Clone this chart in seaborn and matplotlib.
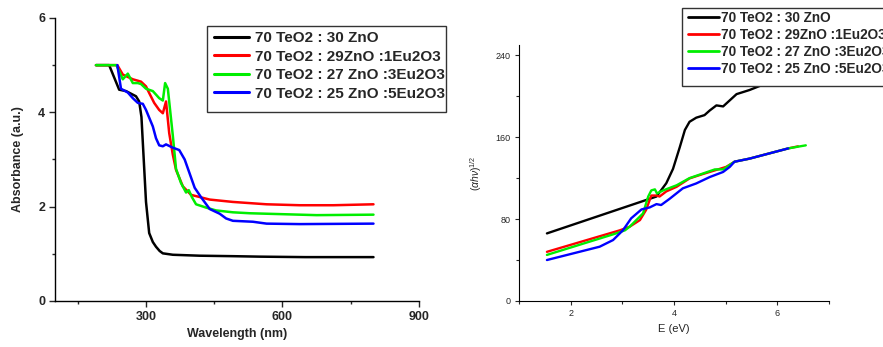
import matplotlib
matplotlib.use("Agg")
import matplotlib.pyplot as plt
from matplotlib.patches import Rectangle
from matplotlib.ticker import MultipleLocator, AutoMinorLocator
import seaborn as sns
import pandas as pd

# ---- Series labels and colours ----
labels = ["70 TeO2 : 30 ZnO", "70 TeO2 : 29ZnO :1Eu2O3",
          "70 TeO2 : 27 ZnO :3Eu2O3", "70 TeO2 : 25 ZnO :5Eu2O3"]
colors = ["#000000", "#ff0000", "#00ee00", "#0000ff"]

# ---- Absorbance spectra (wavelength in nm) ----
wl_black = [190, 219, 241, 256, 278, 285, 290, 295, 300, 307, 315, 322, 330, 337, 359, 418, 491, 550, 650, 800]
ab_black = [5.0, 5.0, 4.48, 4.45, 4.34, 4.23, 3.9, 3.0, 2.1, 1.44, 1.25, 1.15, 1.06, 1.01, 0.98, 0.96, 0.95, 0.94, 0.93, 0.93]

wl_red = [190, 237, 249, 260, 271, 282, 289, 300, 307, 318, 329, 337, 344, 351, 359, 366, 381, 399, 440, 491, 565, 638, 712, 800]
ab_red = [5.0, 5.0, 4.8, 4.75, 4.7, 4.67, 4.65, 4.55, 4.41, 4.2, 4.05, 3.98, 4.23, 3.56, 3.1, 2.78, 2.43, 2.25, 2.15, 2.1, 2.05, 2.03, 2.03, 2.05]

wl_green = [190, 235, 249, 260, 271, 282, 289, 300, 315, 329, 337, 342, 348, 359, 366, 377, 388, 394, 401, 410, 432, 454, 491, 528, 601, 675, 800]
ab_green = [5.0, 5.0, 4.7, 4.82, 4.62, 4.62, 4.6, 4.5, 4.45, 4.3, 4.25, 4.62, 4.5, 3.5, 2.8, 2.5, 2.3, 2.35, 2.2, 2.05, 1.98, 1.92, 1.88, 1.86, 1.84, 1.82, 1.83]

wl_blue = [237, 245, 260, 271, 282, 293, 300, 315, 322, 329, 337, 344, 359, 373, 385, 396, 407, 421, 440, 462, 476, 491, 535, 565, 638, 800]
ab_blue = [5.0, 4.5, 4.42, 4.3, 4.2, 4.18, 4.05, 3.7, 3.45, 3.3, 3.28, 3.32, 3.25, 3.2, 3.0, 2.7, 2.4, 2.2, 1.95, 1.85, 1.75, 1.7, 1.68, 1.64, 1.63, 1.64]

# ---- Tauc plot, (alpha h nu)^(1/2) vs photon energy in eV ----
e_black = [1.54, 3.66, 3.85, 3.98, 4.11, 4.21, 4.30, 4.43, 4.59, 4.69, 4.82, 4.95, 5.08, 5.21, 5.46, 5.66, 6.0, 6.5]
t_black = [66, 102, 115, 129, 150, 167, 175, 179, 181.5, 186, 191, 190, 196, 202, 206, 210, 216, 222]

e_red = [1.54, 2.95, 3.14, 3.34, 3.46, 3.56, 3.66, 3.72, 3.85, 4.05, 4.30, 4.56, 4.82, 5.01, 5.14, 5.17, 5.46, 5.79, 6.21, 6.4]
t_red = [48, 69, 72.5, 79, 89, 103, 103, 102, 107, 111.5, 119.7, 124, 128, 131, 135, 136, 139, 143.4, 149, 151]

e_green = [1.54, 2.88, 3.05, 3.14, 3.27, 3.40, 3.50, 3.56, 3.63, 3.67, 3.79, 4.05, 4.30, 4.56, 4.79, 4.95, 5.14, 5.17, 5.46, 5.79, 6.21, 6.55]
t_green = [45, 66, 69, 72.5, 79, 85.5, 102, 108, 109, 105, 108, 113, 120, 124.5, 128.5, 128.5, 135, 136, 139, 143.4, 149, 152]

e_blue = [1.54, 2.56, 2.82, 3.01, 3.17, 3.37, 3.53, 3.66, 3.75, 3.92, 4.17, 4.43, 4.69, 4.95, 5.08, 5.17, 5.46, 5.79, 6.21]
t_blue = [40, 53, 59.5, 69, 80.7, 89.4, 91.4, 94.6, 93.7, 100, 110, 114.8, 121, 126, 131, 136, 139, 143.4, 149]

abs_x = [wl_black, wl_red, wl_green, wl_blue]
abs_y = [ab_black, ab_red, ab_green, ab_blue]
tauc_x = [e_black, e_red, e_green, e_blue]
tauc_y = [t_black, t_red, t_green, t_blue]

sns.set_style("ticks")
plt.rcParams["font.family"] = ["Liberation Sans", "DejaVu Sans"]
plt.rcParams["mathtext.fontset"] = "custom"
plt.rcParams["mathtext.rm"] = "Liberation Sans"
plt.rcParams["mathtext.it"] = "Liberation Sans:italic"

W, H = 883, 347
fig = plt.figure(figsize=(W / 100, H / 100), dpi=100)
ax1 = fig.add_axes([0.0623, 0.1326, 0.4122, 0.8156])
ax2 = fig.add_axes([0.5878, 0.1326, 0.3511, 0.7378])


def legend_box(ax, x0, y0, x1, y1):
    """White framed box (pixel coords from top-left) placed behind a legend."""
    rect = Rectangle((x0 / W, 1 - y1 / H), (x1 - x0) / W, (y1 - y0) / H,
                     transform=fig.transFigure, facecolor="white",
                     edgecolor="#333333", linewidth=1.0, zorder=10, clip_on=False)
    ax.add_patch(rect)


# ---- Left panel: absorbance ----
for xs, ys, lab, col in zip(abs_x, abs_y, labels, colors):
    df = pd.DataFrame({"x": xs, "y": ys})
    sns.lineplot(data=df, x="x", y="y", ax=ax1, color=col, label=lab,
                 sort=False, estimator=None, linewidth=1.8)

ax1.set_xlim(100, 900)
ax1.set_ylim(0, 6)
ax1.xaxis.set_major_locator(MultipleLocator(300))
ax1.xaxis.set_minor_locator(AutoMinorLocator(2))
ax1.yaxis.set_major_locator(MultipleLocator(2))
ax1.yaxis.set_minor_locator(AutoMinorLocator(2))
ax1.set_xlabel("Wavelength (nm)", fontsize=9, fontweight="bold", labelpad=4)
ax1.set_ylabel("Absorbance (a.u.)", fontsize=9, fontweight="bold", labelpad=10)
ax1.tick_params(axis="both", which="major", direction="out", length=4, width=1,
                labelsize=9, pad=3)
ax1.tick_params(axis="both", which="minor", direction="out", length=2.5, width=1)
for t in ax1.get_xticklabels() + ax1.get_yticklabels():
    t.set_fontweight("bold")
sns.despine(ax=ax1)
for s in ("left", "bottom"):
    ax1.spines[s].set_linewidth(1.0)
    ax1.spines[s].set_color("black")

legend_box(ax1, 207, 26, 446, 112)
leg1 = ax1.legend(loc="upper left", bbox_to_anchor=(214 / W, 1 - 31 / H),
                  bbox_transform=fig.transFigure, prop={"weight": "bold", "size": 11},
                  frameon=False, handlelength=2.3, handletextpad=0.4,
                  borderpad=0, labelspacing=0.3, borderaxespad=0)
leg1.set_zorder(11)
for h in leg1.get_lines():
    h.set_linewidth(2.2)

# ---- Right panel: Tauc plot ----
for xs, ys, lab, col in zip(tauc_x, tauc_y, labels, colors):
    df = pd.DataFrame({"x": xs, "y": ys})
    sns.lineplot(data=df, x="x", y="y", ax=ax2, color=col, label=lab,
                 sort=False, estimator=None, linewidth=1.7)

ax2.set_xlim(1, 7)
ax2.set_ylim(0, 250)
ax2.xaxis.set_major_locator(MultipleLocator(2))
ax2.xaxis.set_minor_locator(AutoMinorLocator(2))
ax2.yaxis.set_major_locator(MultipleLocator(80))
ax2.yaxis.set_minor_locator(AutoMinorLocator(2))
ax2.set_xlabel("E (eV)", fontsize=8, labelpad=4)
ax2.set_ylabel(r"$(\alpha h\nu)^{1/2}$", fontsize=7.5, labelpad=8)
ax2.tick_params(axis="both", which="major", direction="out", length=3, width=0.8,
                labelsize=6.5, pad=3)
ax2.tick_params(axis="both", which="minor", direction="out", length=2, width=0.8)
sns.despine(ax=ax2)
for s in ("left", "bottom"):
    ax2.spines[s].set_linewidth(0.8)
    ax2.spines[s].set_color("black")

legend_box(ax2, 682, 8, 900, 86)
leg2 = ax2.legend(loc="upper left", bbox_to_anchor=(688 / W, 1 - 11 / H),
                  bbox_transform=fig.transFigure, prop={"weight": "bold", "size": 9.8},
                  frameon=False, handlelength=2.3, handletextpad=0.15,
                  borderpad=0, labelspacing=0.22, borderaxespad=0)
leg2.set_zorder(11)
for h in leg2.get_lines():
    h.set_linewidth(2.0)

fig.savefig("out.png", dpi=100)
